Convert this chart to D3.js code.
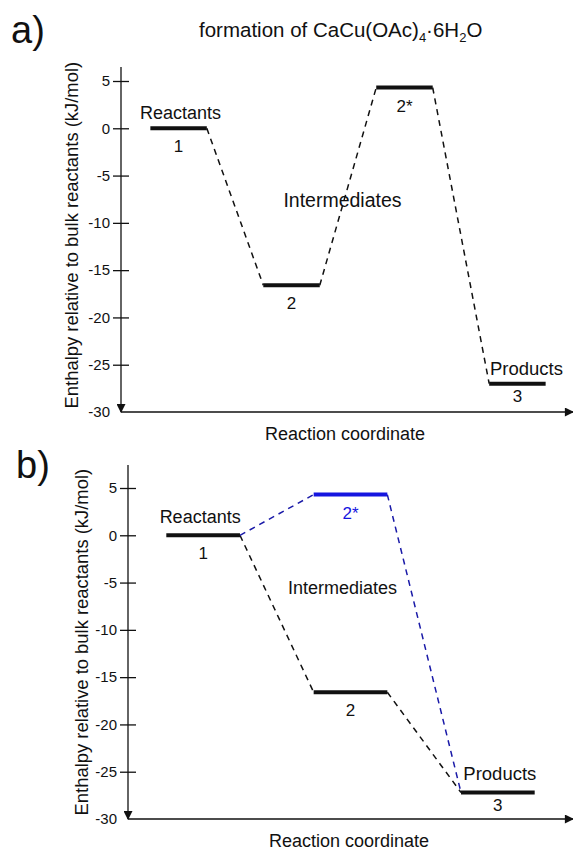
<!DOCTYPE html>
<meta charset="utf-8">
<head>
    <title>Enthalpy diagram</title>
    <script type="text/javascript" src="https://cdn.jsdelivr.net/npm/d3@7"></script>
    <style>
        body { margin: 0; background: #fff; }
        text { font-family: "Liberation Sans", Arial, sans-serif; fill: #111; }
    </style>
</head>
<body>
    <div id="chart"></div>
    <script>
        // data
        var yTicks = [5, 0, -5, -10, -15, -20, -25, -30]

        // panel a: one column per state
        var statesA = ["1", "2", "2*", "3"]
        var valuesA = [0, -16.6, 4.3, -27.0]
        var linksA = [["1", "2"], ["2", "2*"], ["2*", "3"]]

        // panel b: 2 and 2* share the middle column
        var columnsB = ["1", "2", "3"]
        var statesB = ["1", "2", "2*", "3"]
        var valuesB = [0, -16.6, 4.3, -27.2]
        var columnOfB = ["1", "2", "2", "3"]
        var linksB = [["1", "2"], ["2", "3"], ["1", "2*"], ["2*", "3"]]

        var regionLabels = ["Reactants", "Intermediates", "Products"]
        var yTitle = "Enthalpy relative to bulk reactants (kJ/mol)"
        var xTitle = "Reaction coordinate"

        var svg = d3.select("#chart").append("svg")
          .attr("width", 573)
          .attr("height", 851)

        var defs = svg.append("defs")
        defs.append("marker")
          .attr("id", "arrow")
          .attr("viewBox", "0 0 10 10")
          .attr("refX", 9).attr("refY", 5)
          .attr("markerWidth", 10).attr("markerHeight", 9)
          .attr("markerUnits", "userSpaceOnUse")
          .attr("orient", "auto")
          .append("path").attr("d", "M0,0L10,5L0,10Z").attr("fill", "#111")

        // title
        var title = svg.append("text").attr("x", 199).attr("y", 37).style("font-size", "20.5px")
        title.append("tspan").text("formation of CaCu(OAc)")
        title.append("tspan").text("4").style("font-size", "13px").attr("dy", 5)
        title.append("tspan").text("\u00b76H").attr("dy", -5)
        title.append("tspan").text("2").style("font-size", "13px").attr("dy", 5)
        title.append("tspan").text("O").attr("dy", -5)

        function drawPanel(cfg) {
          var g = svg.append("g")
          var y = d3.scaleLinear().domain([-30, 5]).range([cfg.yBottom, cfg.yTop])
          var x = d3.scaleBand().domain(cfg.columns).range([cfg.axisX, cfg.xEnd])
            .paddingInner(0.5).paddingOuter(0.26)

          // panel letter
          g.append("text").attr("x", cfg.letterX).attr("y", cfg.letterY)
            .style("font-size", "38px").text(cfg.letter)

          // y axis (ticks cross the line)
          var yAxis = d3.axisLeft(y).tickValues(yTicks).tickSizeInner(8).tickSizeOuter(0)
            .tickFormat(function(d){ return String(d) })
          var ya = g.append("g").attr("transform", "translate(" + cfg.axisX + ",0)").call(yAxis)
          ya.select(".domain").remove()
          ya.selectAll(".tick line").attr("x1", -8).attr("x2", 8).attr("stroke", "#111").attr("stroke-width", 1.3)
          ya.selectAll(".tick text").attr("x", -11)
            .style("font-family", "Liberation Sans, Arial, sans-serif").style("font-size", "15px").attr("fill", "#111")
          ya.selectAll(".tick").filter(function(d){ return d === -30 }).select("line").remove()

          g.append("line")
            .attr("x1", cfg.axisX).attr("x2", cfg.axisX)
            .attr("y1", cfg.axisTop).attr("y2", cfg.yBottom)
            .attr("stroke", "#111").attr("stroke-width", 1.3)
            .attr("marker-end", "url(#arrow)")
          g.append("line")
            .attr("x1", cfg.axisX).attr("x2", 573)
            .attr("y1", cfg.yBottom).attr("y2", cfg.yBottom)
            .attr("stroke", "#111").attr("stroke-width", 1.3)
            .attr("marker-end", "url(#arrow)")

          g.append("text").attr("transform", "translate(" + cfg.yTitleX + "," + y(-11.3) + ") rotate(-90)")
            .attr("text-anchor", "middle").style("font-size", "18.4px").text(yTitle)
          g.append("text").attr("x", cfg.xTitleX).attr("y", cfg.yBottom + 28)
            .attr("text-anchor", "middle").style("font-size", "18px").text(xTitle)

          // connectors
          function left(s) { return x(cfg.col[s]) }
          function right(s) { return x(cfg.col[s]) + x.bandwidth() }
          g.selectAll(".link").data(cfg.links).enter().append("line")
            .attr("x1", function(d){ return right(d[0]) })
            .attr("y1", function(d){ return y(cfg.val[d[0]]) })
            .attr("x2", function(d){ return left(d[1]) })
            .attr("y2", function(d){ return y(cfg.val[d[1]]) })
            .attr("stroke", function(d){ return cfg.colorOf(d) })
            .attr("stroke-width", 1.5)
            .attr("stroke-dasharray", "6,5")

          // levels
          g.selectAll(".lvl").data(cfg.states).enter().append("line")
            .attr("x1", function(d){ return left(d) })
            .attr("x2", function(d){ return right(d) })
            .attr("y1", function(d){ return y(cfg.val[d]) })
            .attr("y2", function(d){ return y(cfg.val[d]) })
            .attr("stroke", function(d){ return cfg.levelColor(d) })
            .attr("stroke-width", 4)

          // level numbers
          g.selectAll(".num").data(cfg.states).enter().append("text")
            .attr("x", function(d){ return left(d) + x.bandwidth() / 2 })
            .attr("y", function(d){ return y(cfg.val[d]) + (d === "3" ? 18 : 24) })
            .attr("text-anchor", "middle").style("font-size", "17px")
            .style("fill", function(d){ return cfg.levelColor(d) })
            .text(function(d){ return d })

          // region labels
          g.append("text").attr("x", left("1") + x.bandwidth() / 2 + cfg.reactDx).attr("y", y(0) - cfg.reactDy)
            .attr("text-anchor", "middle").style("font-size", "18px").text(regionLabels[0])
          g.append("text").attr("x", 342.5).attr("y", y(cfg.midY))
            .attr("text-anchor", "middle").style("font-size", cfg.midSize).text(regionLabels[1])
          g.append("text").attr("x", left("3") + x.bandwidth() / 2 + cfg.prodDx).attr("y", y(cfg.val["3"]) - cfg.prodDy)
            .attr("text-anchor", "middle").style("font-size", "18.5px").text(regionLabels[2])
        }

        var valA = {}, colA = {}
        statesA.forEach(function(s, i){ valA[s] = valuesA[i]; colA[s] = s })
        drawPanel({
          letter: "a)", letterX: 11, letterY: 43,
          axisX: 121, xEnd: 575, yTop: 81, yBottom: 412, axisTop: 67, yTitleX: 78, xTitleX: 345,
          columns: statesA, states: statesA, val: valA, col: colA, links: linksA,
          colorOf: function(){ return "#111" },
          levelColor: function(){ return "#111" },
          midY: -8.3, midSize: "19.5px", prodDx: 9, prodDy: 9, reactDx: 2, reactDy: 9
        })

        var valB = {}, colB = {}
        statesB.forEach(function(s, i){ valB[s] = valuesB[i]; colB[s] = columnOfB[i] })
        drawPanel({
          letter: "b)", letterX: 16, letterY: 478,
          axisX: 128, xEnd: 573, yTop: 488, yBottom: 819, axisTop: 465, yTitleX: 88, xTitleX: 349,
          columns: columnsB, states: statesB, val: valB, col: colB, links: linksB,
          colorOf: function(d){ return (d[0] === "2*" || d[1] === "2*") ? "#1a1aa8" : "#111" },
          levelColor: function(d){ return d === "2*" ? "#1515e0" : "#111" },
          midY: -6.2, midSize: "18px", prodDx: 2, prodDy: 13, reactDx: -3, reactDy: 12
        })
    </script>
</body>
